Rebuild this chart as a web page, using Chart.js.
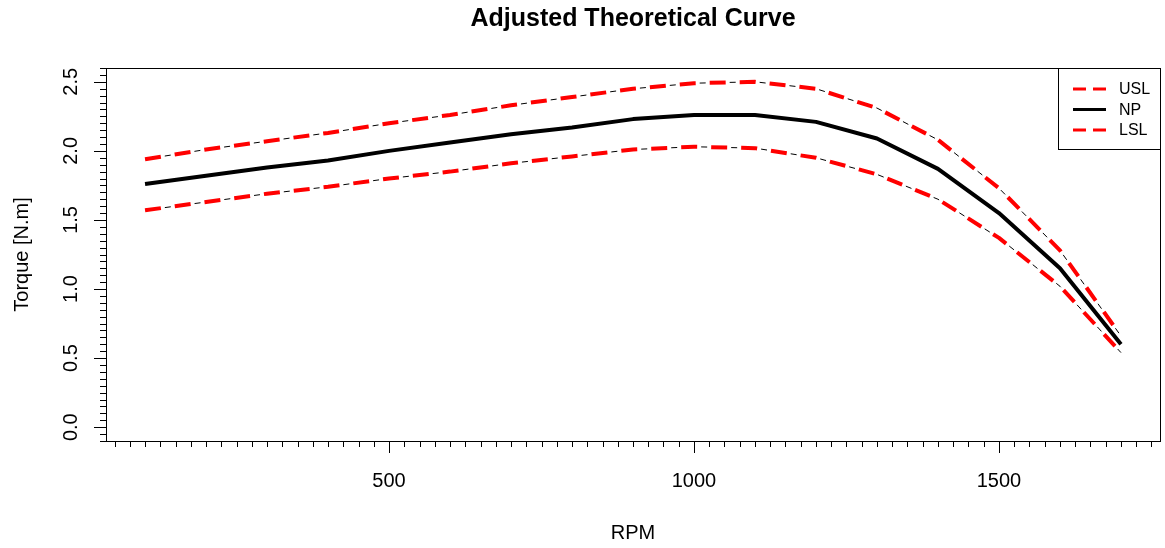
<!DOCTYPE html>
<html>
<head>
<meta charset="utf-8">
<script src="https://cdn.jsdelivr.net/npm/chart.js@4/dist/chart.umd.min.js"></script>
<style>
    html, body { margin: 0; padding: 0; background: #ffffff; }
</style>
</head>
<body>
<canvas id="torqueChart" width="1165" height="548"></canvas>
<script>
// values
const rpm = [100, 200, 300, 400, 500, 600, 700, 800, 900, 1000, 1100, 1200, 1300, 1400, 1500, 1600, 1700];
const npTorque  = [1.76, 1.82, 1.88, 1.93, 2.00, 2.06, 2.12, 2.17, 2.23, 2.26, 2.26, 2.21, 2.09, 1.87, 1.55, 1.15, 0.60];
const uslTorque = [1.94, 2.01, 2.07, 2.13, 2.20, 2.26, 2.33, 2.39, 2.45, 2.49, 2.50, 2.45, 2.31, 2.08, 1.73, 1.28, 0.66];
const lslTorque = [1.57, 1.63, 1.69, 1.74, 1.80, 1.85, 1.91, 1.96, 2.01, 2.03, 2.02, 1.95, 1.83, 1.65, 1.37, 1.02, 0.54];

const xTickLabels = [500, 1000, 1500];
const yTickLabels = [0.0, 0.5, 1.0, 1.5, 2.0, 2.5];
const legendLabels = ["USL", "NP", "LSL"];

const FONT = "'Liberation Sans', Arial, sans-serif";

function toPoints(ys) {
    return rpm.map((x, i) => ({ x: x, y: ys[i] }));
}

// R style box, axes, minor ticks and legend
const rAxesPlugin = {
    id: "rAxes",
    afterDraw(chart) {
        const ctx = chart.ctx;
        const area = chart.chartArea;
        const xs = chart.scales.x;
        const ys = chart.scales.y;
        ctx.save();
        ctx.strokeStyle = "#000";
        ctx.fillStyle = "#000";
        ctx.lineWidth = 1;

        ctx.strokeRect(Math.round(area.left) + 0.5, Math.round(area.top) + 0.5,
            Math.round(area.right - area.left), Math.round(area.bottom - area.top));

        // x ticks
        ctx.beginPath();
        for (let v = 50; v <= 1750; v += 25) {
            const px = Math.round(xs.getPixelForValue(v)) + 0.5;
            const len = v % 500 === 0 ? 12 : 6;
            ctx.moveTo(px, area.bottom);
            ctx.lineTo(px, area.bottom + len);
        }
        // y ticks
        for (let i = -2; i <= 52; i++) {
            const py = Math.round(ys.getPixelForValue(i * 0.05)) + 0.5;
            const len = i % 10 === 0 ? 12 : 6;
            ctx.moveTo(area.left, py);
            ctx.lineTo(area.left - len, py);
        }
        ctx.stroke();

        ctx.font = "20px " + FONT;
        ctx.textAlign = "center";
        ctx.textBaseline = "middle";
        xTickLabels.forEach((v) => {
            ctx.fillText(String(v), xs.getPixelForValue(v), 481);
        });
        yTickLabels.forEach((v) => {
            ctx.save();
            ctx.translate(71, ys.getPixelForValue(v));
            ctx.rotate(-Math.PI / 2);
            ctx.fillText(v.toFixed(1), 0, 0);
            ctx.restore();
        });

        // axis titles
        ctx.fillText("RPM", (area.left + area.right) / 2, 533);
        ctx.save();
        ctx.translate(22, (area.top + area.bottom) / 2);
        ctx.rotate(-Math.PI / 2);
        ctx.fillText("Torque [N.m]", 0, 0);
        ctx.restore();

        // main title
        ctx.font = "bold 25px " + FONT;
        ctx.fillText("Adjusted Theoretical Curve", (area.left + area.right) / 2, 19);

        // legend
        const lx = 1058, ly = Math.round(area.top);
        ctx.fillStyle = "#fff";
        ctx.fillRect(lx, ly, area.right - lx, 81);
        ctx.strokeStyle = "#000";
        ctx.strokeRect(lx + 0.5, ly + 0.5, Math.round(area.right - lx), 81);
        const rowY = [89, 109.5, 130];
        const styles = [
            { color: "#ff0000", dash: [13, 7] },
            { color: "#000000", dash: [] },
            { color: "#ff0000", dash: [13, 7] },
        ];
        ctx.font = "16px " + FONT;
        ctx.textAlign = "left";
        legendLabels.forEach((label, i) => {
            ctx.beginPath();
            ctx.strokeStyle = styles[i].color;
            ctx.lineWidth = 3;
            ctx.setLineDash(styles[i].dash);
            ctx.moveTo(1073, rowY[i]);
            ctx.lineTo(1106, rowY[i]);
            ctx.stroke();
            ctx.setLineDash([]);
            ctx.fillStyle = "#000";
            ctx.fillText(label, 1119, rowY[i] + 1);
        });
        ctx.restore();
    },
};

const redDash = [16, 14];
const thinDash = [6, 24];

new Chart(document.getElementById("torqueChart").getContext("2d"), {
    type: "line",
    data: {
        datasets: [
            {
                label: "USL",
                data: toPoints(uslTorque),
                borderColor: "#ff0000",
                borderWidth: 4,
                borderDash: redDash,
                order: 1,
            },
            {
                label: "LSL",
                data: toPoints(lslTorque),
                borderColor: "#ff0000",
                borderWidth: 4,
                borderDash: redDash,
                order: 1,
            },
            {
                label: "NP",
                data: toPoints(npTorque),
                borderColor: "#000000",
                borderWidth: 4,
                order: 2,
            },
            {
                label: "USL thin",
                data: toPoints(uslTorque),
                borderColor: "#000000",
                borderWidth: 1,
                borderDash: thinDash,
                borderDashOffset: 10,
                order: 3,
            },
            {
                label: "LSL thin",
                data: toPoints(lslTorque),
                borderColor: "#000000",
                borderWidth: 1,
                borderDash: thinDash,
                borderDashOffset: 10,
                order: 3,
            },
        ],
    },
    options: {
        responsive: false,
        animation: false,
        devicePixelRatio: 1,
        events: [],
        layout: {
            padding: { left: 106, top: 68, right: 5, bottom: 107 },
        },
        elements: {
            point: { radius: 0 },
            line: { tension: 0, fill: false, borderCapStyle: "butt", borderJoinStyle: "round" },
        },
        scales: {
            x: { type: "linear", min: 36, max: 1764, display: false },
            y: { type: "linear", min: -0.1, max: 2.6, display: false },
        },
        plugins: {
            legend: { display: false },
            title: { display: false },
            tooltip: { enabled: false },
        },
    },
    plugins: [rAxesPlugin],
});
</script>
</body>
</html>
